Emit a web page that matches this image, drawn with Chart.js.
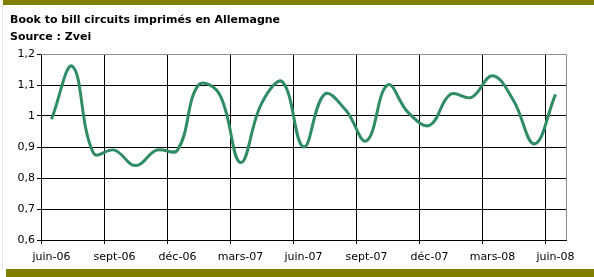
<!DOCTYPE html>
<html>
<head>
<meta charset="utf-8">
<script src="https://cdn.jsdelivr.net/npm/chart.js@4/dist/chart.umd.min.js"></script>
<style>
  body { margin: 0; background: #fff; }
  #wrap { position: relative; width: 594px; height: 277px; overflow: hidden; background: #fff; }
  #chart { position: absolute; left: 0; top: 0; }
  .bar { position: absolute; background: #808000; }
  #titre { position: absolute; left: 10px; top: 12px; font: bold 11px "DejaVu Sans", sans-serif; line-height: 16.5px; color: #000; }
  #regle { position: absolute; left: 2px; top: 5px; width: 1px; height: 264px; background: #e4e4e4; }
</style>
</head>
<body>
<div id="wrap">
  <canvas id="chart" width="594" height="277"></canvas>
  <div class="bar" style="left:3px;top:0;width:591px;height:5px"></div>
  <div class="bar" style="left:6px;top:269px;width:588px;height:8px"></div>
  <div id="regle"></div>
  <div id="titre">Book to bill circuits imprimés en Allemagne<br>Source : Zvei</div>
</div>
<script>
// mois (un point par mois, étiquette tous les 3 mois)
const mois = ["juin-06", "juil-06", "août-06", "sept-06", "oct-06", "nov-06", "déc-06",
  "janv-07", "févr-07", "mars-07", "avr-07", "mai-07", "juin-07", "juil-07", "août-07",
  "sept-07", "oct-07", "nov-07", "déc-07", "janv-08", "févr-08", "mars-08", "avr-08",
  "mai-08", "juin-08"];
const bookToBill = [0.99, 1.16, 0.88, 0.89, 0.84, 0.89, 0.89, 1.10, 1.07, 0.85, 1.04, 1.11,
  0.90, 1.07, 1.02, 0.92, 1.10, 1.01, 0.97, 1.07, 1.06, 1.13, 1.05, 0.91, 1.07];
const yMin = 0.6;
const yMax = 1.2;
const yStep = 0.1;

const police = { family: "DejaVu Sans", size: 11 };

// cadre gris (haut + droite) de la zone de tracé
const cadre = {
  id: "cadre",
  beforeDatasetsDraw(chart) {
    const { ctx, chartArea: a } = chart;
    ctx.save();
    ctx.strokeStyle = "#8c8c8c";
    ctx.lineWidth = 1;
    ctx.beginPath();
    ctx.moveTo(a.left, a.top + 0.5);
    ctx.lineTo(a.right + 0.5, a.top + 0.5);
    ctx.lineTo(a.right + 0.5, a.bottom);
    ctx.stroke();
    ctx.restore();
  },
};

new Chart(document.getElementById("chart").getContext("2d"), {
  type: "line",
  data: {
    labels: mois,
    datasets: [
      {
        data: bookToBill,
        borderColor: "#2f8c65",
        borderWidth: 3,
        pointRadius: 0,
        tension: 0.4,
        fill: false,
      },
    ],
  },
  options: {
    responsive: false,
    animation: false,
    layout: { padding: { left: 0, top: 54, right: 28, bottom: 0 } },
    plugins: {
      legend: { display: false },
      tooltip: { enabled: false },
    },
    scales: {
      x: {
        offset: true,
        afterFit: (s) => { s.height = 37; },
        grid: {
          offset: true,
          color: (c) => (c.index % 3 === 0 ? "#000" : "rgba(0,0,0,0)"),
          tickLength: 4,
          lineWidth: 1,
        },
        border: { color: "#000", width: 1 },
        ticks: {
          autoSkip: false,
          maxRotation: 0,
          color: "#000",
          font: police,
          padding: 7,
          callback: (v, i) => (i % 3 === 0 ? mois[i] : ""),
        },
      },
      y: {
        min: yMin,
        max: yMax,
        afterFit: (s) => { s.width = 41; },
        grid: {
          color: (c) => (c.tick && c.tick.value > yMax - yStep / 2 ? "#8c8c8c" : "#000"),
          tickColor: "#000",
          tickLength: 4,
          lineWidth: 1,
        },
        border: { color: "#000", width: 1 },
        ticks: {
          stepSize: yStep,
          color: "#000",
          font: police,
          padding: 2,
          callback: (v) => String(Number(v.toFixed(1))).replace(".", ","),
        },
      },
    },
  },
  plugins: [cadre],
});
</script>
</body>
</html>
